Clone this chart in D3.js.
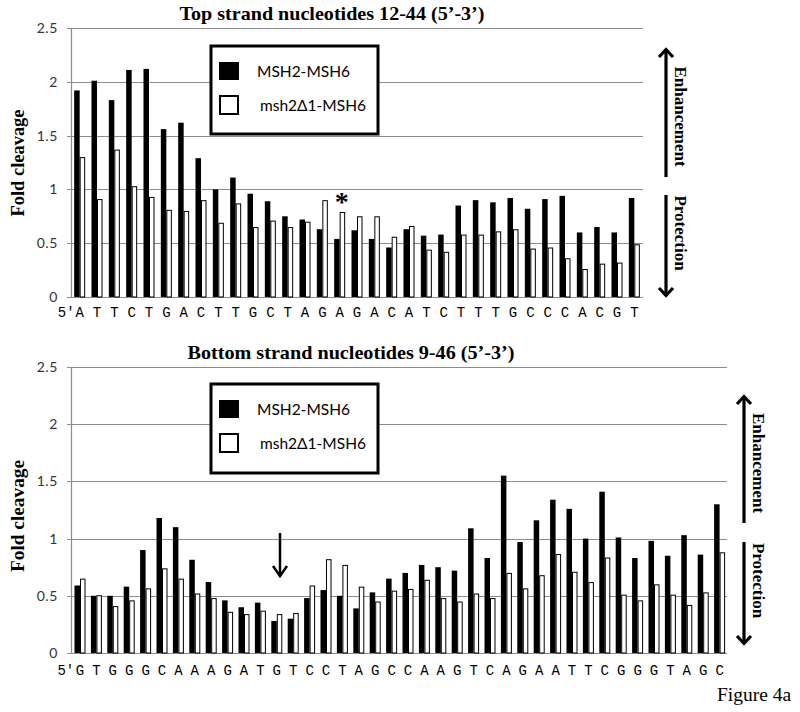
<!DOCTYPE html>
<html><head><meta charset="utf-8">
<script src="https://cdn.jsdelivr.net/npm/d3@7/dist/d3.min.js"></script>
<style>body{margin:0;background:#fff}</style>
</head><body><svg id="c" width="800" height="712"></svg>
<script>
// ---------- data ----------
const seriesNames = ["MSH2-MSH6", "msh2\u03941-MSH6"];
const yTicks = [0, 0.5, 1, 1.5, 2, 2.5];
const yTickLabels = ["0", "0.5", "1", "1.5", "2", "2.5"];

const topTitle = "Top strand nucleotides 12-44 (5\u2019-3\u2019)";
const topSeq = ["A","T","T","C","T","G","A","C","T","T","G","C","T","A","G","A","G","A","C","A","T","C","T","T","T","G","C","C","C","A","C","G","T"];
const topMSH2 = [1.92,2.01,1.83,2.11,2.12,1.56,1.62,1.29,1.00,1.11,0.96,0.89,0.75,0.72,0.63,0.54,0.62,0.54,0.46,0.63,0.57,0.58,0.85,0.90,0.88,0.92,0.82,0.91,0.94,0.60,0.65,0.60,0.92];
const topMsh2d1 = [1.30,0.91,1.37,1.03,0.93,0.81,0.80,0.90,0.69,0.87,0.65,0.71,0.65,0.70,0.90,0.79,0.75,0.75,0.56,0.66,0.44,0.42,0.58,0.58,0.61,0.63,0.45,0.46,0.36,0.26,0.31,0.32,0.49];

const botTitle = "Bottom strand nucleotides 9-46 (5\u2019-3\u2019)";
const botSeq = ["G","T","G","G","G","C","A","A","A","G","A","T","G","T","C","C","T","A","G","C","C","A","A","G","T","C","A","G","A","A","T","T","C","G","G","G","T","A","G","C"];
const botMSH2 = [0.59,0.50,0.50,0.58,0.90,1.18,1.10,0.815,0.62,0.46,0.40,0.44,0.28,0.30,0.48,0.55,0.50,0.39,0.53,0.65,0.70,0.77,0.75,0.72,1.09,0.83,1.55,0.97,1.16,1.34,1.26,1.00,1.41,1.01,0.83,0.98,0.85,1.03,0.86,1.30];
const botMsh2d1 = [0.65,0.505,0.41,0.46,0.565,0.74,0.65,0.52,0.48,0.36,0.34,0.37,0.34,0.35,0.59,0.82,0.77,0.58,0.45,0.545,0.56,0.64,0.48,0.45,0.52,0.48,0.70,0.565,0.68,0.865,0.71,0.62,0.835,0.51,0.46,0.60,0.51,0.42,0.53,0.88];

const sideLabels = ["Enhancement", "Protection"];
const figureLabel = "Figure 4a";
const yLabel = "Fold cleavage";

// ---------- drawing ----------
const svg = d3.select("#c");
const serif = "'Liberation Serif','Times New Roman',serif";
const sans = "Lato,'Open Sans',sans-serif";
const mono = "'Liberation Mono','Courier New',monospace";

function arrowV(x, yTip, yEnd, up) {
  const g = svg.append("g").attr("stroke", "#000").attr("fill", "none")
    .attr("stroke-width", 3.2).attr("stroke-linecap", "butt");
  g.append("line").attr("x1", x).attr("x2", x).attr("y1", yTip + (up ? 1 : -1)).attr("y2", yEnd);
  const d = up ? 1 : -1;
  g.append("polyline").attr("stroke-linejoin", "miter")
    .attr("points", `${x - 7},${yTip + 9 * d} ${x},${yTip + 1.5 * d} ${x + 7},${yTip + 9 * d}`);
}

function panel(o) {
  const x = d3.scaleBand().domain(d3.range(o.a.length)).range([o.left, o.right]);
  const y = d3.scaleLinear().domain([0, 2.5]).range([o.bottom, o.top]);
  const g = svg.append("g");
  const bw = 5.5;

  // title
  g.append("text").attr("x", o.titleX).attr("y", o.titleY).attr("text-anchor", "middle")
    .attr("font-family", serif).attr("font-weight", "bold").attr("font-size", 19)
    .attr("textLength", o.titleLen).attr("lengthAdjust", "spacingAndGlyphs").text(o.title);

  // gridlines
  g.selectAll(".grid").data(yTicks).join("line")
    .attr("x1", o.left - 4).attr("x2", o.right)
    .attr("y1", d => Math.round(y(d)) + 0.5).attr("y2", d => Math.round(y(d)) + 0.5)
    .attr("stroke", "#8c8c8c").attr("stroke-width", 1.2);
  // y axis line
  g.append("line").attr("x1", o.left + 0.5).attr("x2", o.left + 0.5)
    .attr("y1", y(2.5)).attr("y2", y(0)).attr("stroke", "#8c8c8c").attr("stroke-width", 1.2);

  // tick labels
  g.selectAll(".tl").data(yTicks).join("text")
    .attr("x", o.left - 13).attr("y", d => y(d) + 5)
    .attr("text-anchor", "end").attr("font-family", sans).attr("font-size", 14)
    .attr("letter-spacing", 0.6).attr("fill", "#333")
    .text((d, i) => yTickLabels[i]);

  // y label
  g.append("text").attr("transform", `translate(${o.yLabX},${o.yLabY}) rotate(-90)`)
    .attr("text-anchor", "middle").attr("font-family", serif).attr("font-weight", "bold")
    .attr("font-size", 19.5).attr("textLength", o.yLabLen).attr("lengthAdjust", "spacingAndGlyphs")
    .text(yLabel);

  // bars
  g.selectAll(".b1").data(o.a).join("rect")
    .attr("x", (d, i) => x(i) + x.bandwidth() / 2 - bw + o.shift)
    .attr("width", bw).attr("y", d => y(d)).attr("height", d => y(0) - y(d))
    .attr("fill", "#000");
  g.selectAll(".b2").data(o.b).join("rect")
    .attr("x", (d, i) => x(i) + x.bandwidth() / 2 + o.shift + 0.5)
    .attr("width", bw - 1).attr("y", d => y(d) + 0.5).attr("height", d => y(0) - y(d) - 0.5)
    .attr("fill", "#fff").attr("stroke", "#000").attr("stroke-width", 1);

  // x labels
  g.append("text").attr("x", x(0) + x.bandwidth() / 2 - 5).attr("y", o.labY)
    .attr("text-anchor", "end").attr("font-family", mono).attr("font-size", 14)
    .text("5\u2032");
  g.selectAll(".xl").data(o.seq).join("text")
    .attr("x", (d, i) => x(i) + x.bandwidth() / 2 + o.shift)
    .attr("y", o.labY).attr("text-anchor", "middle")
    .attr("font-family", mono).attr("font-size", 14).text(d => d);

  // legend
  const L = o.legend;
  g.append("rect").attr("x", L.x).attr("y", L.y).attr("width", L.w).attr("height", L.h)
    .attr("fill", "#fff").attr("stroke", "#000").attr("stroke-width", 3);
  g.append("rect").attr("x", L.x + 8).attr("y", L.y + 16).attr("width", 20).attr("height", 18)
    .attr("fill", "#000");
  g.append("rect").attr("x", L.x + 9).attr("y", L.y + 50).attr("width", 18).attr("height", 18)
    .attr("fill", "#fff").attr("stroke", "#000").attr("stroke-width", 2);
  g.append("text").attr("x", L.x + 46).attr("y", L.y + 31).attr("font-family", sans)
    .attr("font-size", 15.5).text(seriesNames[0]);
  g.append("text").attr("x", L.x + 49).attr("y", L.y + 65).attr("font-family", sans)
    .attr("font-size", 15.5).text(seriesNames[1]);

  // side annotations
  const s = o.side;
  arrowV(s.x, s.upTip, s.upEnd, true);
  arrowV(s.x, s.downTip, s.downStart, false);
  g.append("text").attr("transform", `translate(${s.tx},${(s.upTip + s.upEnd) / 2 + 4}) rotate(90)`)
    .attr("text-anchor", "middle").attr("font-family", serif).attr("font-weight", "bold")
    .attr("font-size", 17).text(sideLabels[0]);
  g.append("text").attr("transform", `translate(${s.tx},${(s.downStart + s.downTip) / 2 - 13}) rotate(90)`)
    .attr("text-anchor", "middle").attr("font-family", serif).attr("font-weight", "bold")
    .attr("font-size", 17).text(sideLabels[1]);

  return { x, y, g };
}

const P1 = panel({
  a: topMSH2, b: topMsh2d1, seq: topSeq, title: topTitle, titleLen: 305,
  left: 71, right: 643, top: 28, bottom: 297, shift: 0,
  titleX: 332, titleY: 20, yLabX: 24, yLabY: 163, yLabLen: 107, labY: 317,
  legend: { x: 211, y: 46, w: 167, h: 88 },
  side: { x: 666, upTip: 48, upEnd: 177, downStart: 195, downTip: 297, tx: 675 }
});
// asterisk over the msh2Δ1 bar
P1.g.append("text")
  .attr("x", P1.x(15) + P1.x.bandwidth() / 2 + 2)
  .attr("y", P1.y(topMsh2d1[15]) - 1).attr("text-anchor", "middle")
  .attr("font-family", serif).attr("font-weight", "bold").attr("font-size", 28).text("*");

const P2 = panel({
  a: botMSH2, b: botMsh2d1, seq: botSeq, title: botTitle, titleLen: 327,
  left: 71, right: 727, top: 367, bottom: 653, shift: 0.8,
  titleX: 351, titleY: 359, yLabX: 24, yLabY: 516, yLabLen: 112, labY: 675,
  legend: { x: 211, y: 384, w: 167, h: 89 },
  side: { x: 744, upTip: 395, upEnd: 523, downStart: 542, downTip: 645, tx: 753 }
});
// arrow over the bottom strand position
(function () {
  const xa = P2.x(12) + P2.x.bandwidth() / 2 + 4;
  const g = svg.append("g").attr("stroke", "#000").attr("fill", "none").attr("stroke-width", 2.5);
  g.append("line").attr("x1", xa).attr("x2", xa).attr("y1", 533).attr("y2", 575);
  g.append("polyline").attr("points", `${xa - 7},${566} ${xa},${576} ${xa + 7},${566}`);
})();

svg.append("text").attr("x", 717).attr("y", 701).attr("font-family", serif)
  .attr("font-size", 19.5).text(figureLabel);
</script></body></html>
